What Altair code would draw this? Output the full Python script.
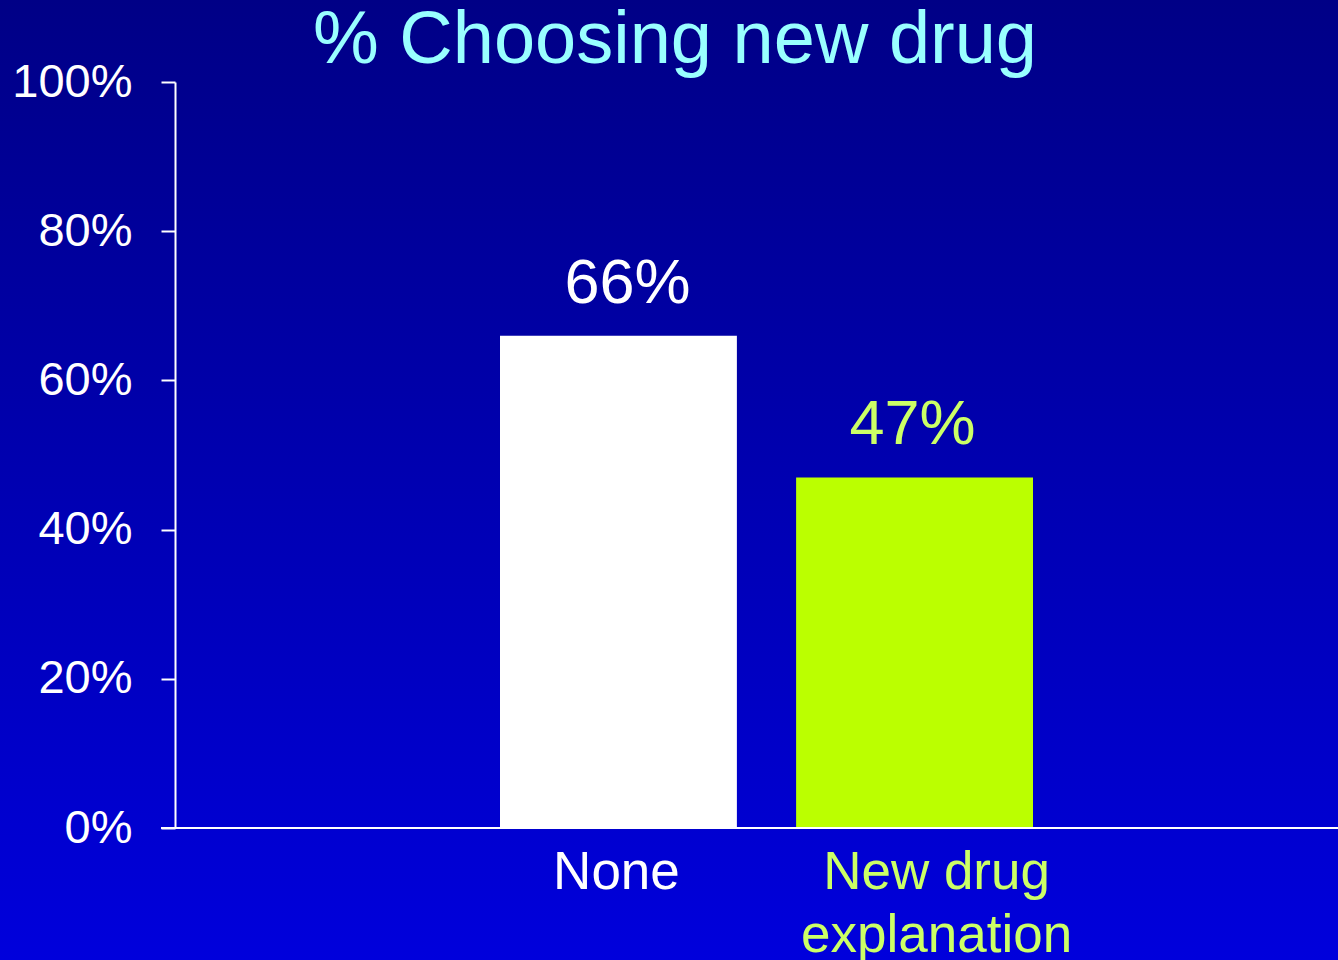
import altair as alt
import pandas as pd

# ---- data ----
categories = ["None", "New drug explanation"]
x_labels = ["None", "New drug\nexplanation"]
values = [0.66, 0.47]
y_ticks = [0, 0.2, 0.4, 0.6, 0.8, 1.0]
title_text = "% Choosing new drug"

df = pd.DataFrame({"category": categories, "label": x_labels, "value": values})

W, H = 1163, 746
FONT = "Liberation Sans"

xscale = alt.Scale(domain=categories, paddingInner=0.2, paddingOuter=0, range=[325, 858])
yscale = alt.Scale(domain=[0, 1])

# background gradient (covers the whole canvas)
bg = alt.Chart(pd.DataFrame({"a": [0]})).mark_rect(
    fill=alt.LinearGradient(
        gradient="linear",
        stops=[alt.GradientStop(color="#000086", offset=0),
               alt.GradientStop(color="#0000dc", offset=1)],
        x1=0, x2=0, y1=0, y2=1),
    clip=False,
).encode(x=alt.value(-175), x2=alt.value(W), y=alt.value(-82), y2=alt.value(H + 132))

bars = alt.Chart(df).mark_bar().encode(
    x=alt.X("category:N", scale=xscale, sort=categories, axis=None),
    y=alt.Y("value:Q", scale=yscale,
            axis=alt.Axis(title=None, values=y_ticks, format=".0%", grid=False,
                          tickSize=14, tickWidth=2, tickColor="white",
                          domainColor="white", domainWidth=2,
                          labelColor="white", labelFont=FONT, labelFontSize=47,
                          labelPadding=29, zindex=1)),
    color=alt.Color("category:N", scale=alt.Scale(domain=categories, range=["#ffffff", "#bbff00"]),
                    legend=None),
)

baseline = alt.Chart(pd.DataFrame({"a": [0]})).mark_rule(color="white", strokeWidth=2).encode(
    x=alt.value(-14), x2=alt.value(W), y=alt.value(H)
)


def value_label(cat, color, dx):
    return alt.Chart(df).transform_filter(alt.datum.category == cat).mark_text(
        font=FONT, fontSize=63, baseline="alphabetic", align="center", dy=-33, dx=dx, color=color,
    ).encode(
        x=alt.X("category:N", scale=xscale, sort=categories),
        y=alt.Y("value:Q", scale=yscale),
        text=alt.Text("value:Q", format=".0%"),
    )


vl_none = value_label(categories[0], "#ffffff", 9)
vl_new = value_label(categories[1], "#ccff66", -2)

xl_none = alt.Chart(df).transform_filter(alt.datum.category == categories[0]).mark_text(
    font=FONT, fontSize=53, baseline="alphabetic", align="center", color="#ffffff", dx=-2,
).encode(
    x=alt.X("category:N", scale=xscale, sort=categories),
    y=alt.value(H + 61),
    text="label:N",
)
xl_new = alt.Chart(df).transform_filter(alt.datum.category == categories[1]).mark_text(
    font=FONT, fontSize=53, baseline="alphabetic", align="center", color="#ccff66", dx=22,
    lineBreak="\n", lineHeight=63,
).encode(
    x=alt.X("category:N", scale=xscale, sort=categories),
    y=alt.value(H + 61),
    text="label:N",
)

title = alt.Chart(pd.DataFrame({"t": [title_text]})).mark_text(
    font=FONT, fontSize=74, baseline="alphabetic", align="center", color="#99ffff",
).encode(x=alt.value(675 - 175), y=alt.value(63 - 82), text="t:N")

chart = alt.layer(bg, bars, baseline, vl_none, vl_new, xl_none, xl_new, title).properties(
    width=W, height=H,
    autosize=alt.AutoSizeParams(type="none"),
    padding={"left": 175, "top": 82, "right": 0, "bottom": 132},
    background="#0000b0",
).configure_view(stroke=None)

chart.save("out.html", embed_options={"renderer": "svg", "actions": False})
